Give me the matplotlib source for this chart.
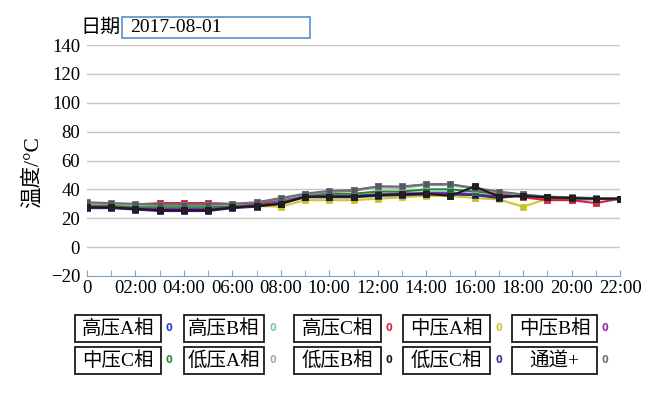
import matplotlib
matplotlib.use("Agg")
import matplotlib.pyplot as plt
from matplotlib.patches import Rectangle
from matplotlib.ticker import MultipleLocator

plt.rcParams['font.family'] = ['Liberation Serif', 'Noto Sans CJK SC', 'DejaVu Sans']
plt.rcParams['axes.unicode_minus'] = True

hours = list(range(23))
tick_labels = ['0'] + ['%02d:00' % h for h in range(2, 23, 2)]

names = ['高压A相', '高压B相', '高压C相', '中压A相', '中压B相',
         '中压C相', '低压A相', '低压B相', '低压C相', '通道+']
colors = ['#2040b8', '#78c8c0', '#d8203c', '#cfc828', '#8a28a8',
          '#228a2a', '#a8a8a8', '#1a1a1a', '#3a2a90', '#66707a']
marker_colors = ['#1c2a78', '#4a8a8a', '#c83040', '#c8c020', '#4a1a80',
                 '#1f6a30', '#8a8a8a', '#202020', '#1a1a60', '#4e5a66']
current = ['0'] * 10

hv_a = [27.5, 27.5, 26.5, 25.5, 25.5, 25.5, 27.5, 28.5, 30.5, 35, 35, 35, 36, 36.5, 37, 37, 36.5, 34.5, 36, 34.5, 34, 33.5, 33.5]
hv_b = [28.5, 28.5, 28, 27.5, 27.5, 27.5, 28.5, 29.5, 32, 35.5, 36, 36, 37, 37.5, 38, 38, 37, 35.5, 35, 33.5, 32.5, 33, 33.5]
hv_c = [30, 29.5, 29.5, 30.5, 30.5, 30.5, 30, 30, 33, 36.5, 38.5, 39, 42, 41.5, 43.5, 43.5, 40.5, 37, 34.5, 32.5, 32.5, 30.5, 33.5]
mv_a = [28, 28, 27.5, 27, 27, 27, 28, 28.5, 28, 32.5, 32.5, 32.5, 33.5, 34.5, 35.5, 35.5, 34, 33, 28, 33.5, 33.5, 33.5, 33]
mv_b = [28, 28, 27, 26.5, 26.5, 26.5, 28, 29, 31, 35, 35.5, 35.5, 36.5, 37, 37.5, 37.5, 36.5, 35, 35.5, 34, 33.5, 33.5, 33.5]
mv_c = [29, 28.5, 28, 28, 28, 28, 29, 30, 33, 36.5, 37, 37, 38.5, 38.5, 40, 40, 38.5, 37, 35.5, 34.5, 34, 33.5, 33.5]
lv_a = [30, 30, 29, 29, 29, 29, 29.5, 31, 33.5, 36.5, 38.5, 39.5, 41.5, 41, 43, 43, 40.5, 38, 36, 35, 34, 33.5, 33.5]
lv_b = [27.5, 27.5, 26.5, 25.5, 25.5, 25.5, 27.5, 28.5, 30, 35, 35, 35, 36, 36.5, 37, 35.5, 42, 35, 35.5, 34.5, 34, 33.5, 33.5]
lv_c = [27, 27, 26, 25, 25, 25, 27, 28, 30, 34.5, 34.5, 34.5, 35.5, 36, 36.5, 36.5, 36, 34, 36, 34.5, 34, 33.5, 33.5]
channel = [31, 30.5, 30, 29.5, 29.5, 29.5, 30, 31, 34, 37, 39, 39.5, 42, 42, 43.5, 43.5, 41, 38.5, 36.5, 35, 34.5, 34, 33.5]

series = [hv_a, hv_b, hv_c, mv_a, mv_b, mv_c, lv_a, lv_b, lv_c, channel]
draw_order = [3, 1, 0, 4, 8, 5, 2, 6, 9, 7]

fig = plt.figure(figsize=(6.69, 3.98), dpi=100)
ax = fig.add_axes([87 / 669, 1 - 276 / 398, 533 / 669, 231 / 398])

for i in draw_order:
    ax.plot(hours, series[i], color=colors[i], lw=1.5, marker='s', markersize=4.5,
            markerfacecolor=marker_colors[i], markeredgecolor=colors[i], markeredgewidth=0.6)

ax.set_xlim(0, 22)
ax.set_ylim(-20, 140)
ax.xaxis.set_major_locator(MultipleLocator(2))
ax.xaxis.set_minor_locator(MultipleLocator(1))
ax.set_xticks(range(0, 23, 2))
ax.set_xticklabels(tick_labels)
ax.set_yticks(range(-20, 141, 20))
ax.set_yticklabels(['\u221220'] + [str(v) for v in range(0, 141, 20)])
ax.tick_params(axis='x', which='both', direction='in', length=4, color='#7f9fbf',
               labelsize=13.5, pad=3)
ax.tick_params(axis='y', length=0, labelsize=13.5, pad=5)
for s in ['top', 'right', 'left']:
    ax.spines[s].set_visible(False)
ax.spines['bottom'].set_color('#7f9fbf')
for v in range(0, 141, 20):
    ax.axhline(v, color='#c6c6c6', lw=1, zorder=0)

ax.set_ylabel('温度/°C', fontsize=15.5)
ax.yaxis.set_label_coords(-44 / 533, 0.45)

# date header
W, H = 669, 398
fig.text(80 / W, 1 - 28 / H, '日期', fontsize=14.5, va='center', ha='left')
fig.patches.append(Rectangle((122 / W, 1 - 38 / H), 188 / W, 21 / H, transform=fig.transFigure,
                             fill=False, edgecolor='#5a8fc8', lw=1.2))
fig.text(130 / W, 1 - 27.5 / H, '2017-08-01', fontsize=14, va='center', ha='left')

# legend boxes
col_left = [75, 184, 294, 403, 512]
col_width = [86, 80, 87, 87, 85]
row_top = [315, 347]
for k, name in enumerate(names):
    r, c = divmod(k, 5)
    x0 = col_left[c]
    y0 = row_top[r]
    fig.patches.append(Rectangle((x0 / W, 1 - (y0 + 27) / H), col_width[c] / W, 27 / H,
                                 transform=fig.transFigure, fill=False, edgecolor='#1a1a1a', lw=1.3))
    fig.text((x0 + col_width[c] / 2) / W, 1 - (y0 + 13.5) / H, name, fontsize=14,
             ha='center', va='center')
    fig.text((x0 + col_width[c] + 5) / W, 1 - (y0 + 13) / H, current[k], fontsize=7,
             color=colors[k], ha='left', va='center', family='DejaVu Sans', weight='bold')

fig.savefig('out.png', dpi=100)
